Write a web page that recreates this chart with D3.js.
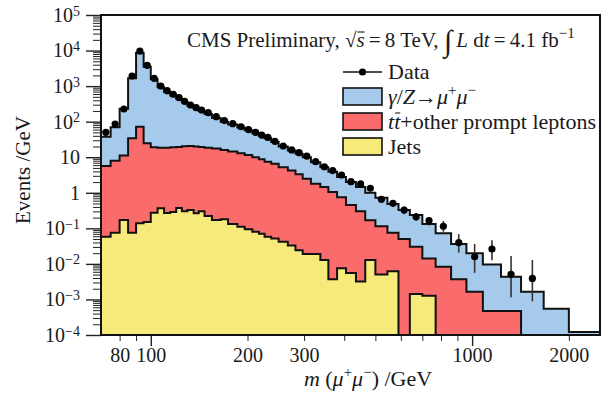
<!DOCTYPE html>
<html>
<head>
<meta charset="utf-8">
<script src="https://cdn.jsdelivr.net/npm/d3@7"></script>
<style>
  body { margin: 0; background: #fff; }
  svg text { font-family: "Liberation Serif", "DejaVu Serif", serif; fill: #1a1a1a; }
</style>
</head>
<body>
<div id="chart"></div>
<script>
// bin edges in GeV
const binEdges = [70, 75, 80, 85, 90, 95, 100, 105, 110, 115, 120, 125, 130, 136, 141, 147, 155, 165, 174,
  186, 196, 207, 217, 226, 237, 250, 267, 282, 297, 315, 337, 357, 380, 405, 435, 465, 500, 545, 590,
  640, 700, 770, 860, 960, 1080, 1230, 1420, 1670, 2000, 2500];

// stacked MC, events / GeV per bin
const jetsValues = [0.058, 0.075, 0.171, 0.075, 0.138, 0.151, 0.275, 0.366, 0.27, 0.288, 0.373, 0.30, 0.328,
  0.264, 0.30, 0.222, 0.171, 0.179, 0.132, 0.11, 0.095, 0.08, 0.07, 0.058, 0.052, 0.042, 0.033, 0.024, 0.019,
  0.019, 0.0129, 0.0037, 0.0075, 0.0055, 0.0032, 0.0129, 0.005, 0.0062, 0, 0.00142, 0.00127, 0, 0, 0, 0, 0,
  0, 0, 0];
const ttbarValues = [5.60, 7.93, 11.1, 33.9, 71.9, 24.5, 18.7, 18.1, 18.2, 18.7, 19.1, 20.2, 20.2, 19.7, 19.2,
  18.3, 17.3, 15.8, 14.37, 12.89, 11.4, 9.92, 8.63, 7.44, 6.45, 5.16, 4.17, 3.28, 2.48, 1.78, 1.44, 1.046,
  0.742, 0.445, 0.297, 0.157, 0.11, 0.069, 0.05, 0.0291, 0.0130, 0.0083, 0.00367, 0.00165, 0.00047,
  0.00047, 0, 0, 0];
const dyValues = [32.1, 61.5, 221, 1626, 8628, 3495, 1531, 906, 663, 526, 420, 330, 260, 215, 180, 146, 110,
  84, 68.5, 55, 45.5, 37, 31.3, 26.5, 20.5, 14.8, 11.3, 9.2, 7.5, 5.4, 3.75, 2.85, 2.05, 1.55, 1.15, 0.83,
  0.605, 0.405, 0.28, 0.2065, 0.1177, 0.0641, 0.0325, 0.0182, 0.0092, 0.0039, 0.00165, 0.00055, 0.000121];

// data, events / GeV (first 47 bins)
const dataValues = [50, 86, 227, 1925, 9700, 3850, 1656, 1007, 743, 586, 472, 373, 294, 248, 213, 179, 138,
  107, 88, 72, 60, 50, 42, 36, 28, 20.7, 16, 13.4, 10.8, 7.5, 5.4, 4.2, 3.16, 2.05, 1.77, 1.34, 0.656,
  0.506, 0.328, 0.212, 0.164, 0.114, 0.0395, 0.0159, 0.0262, 0.0051, 0.0039];
// error bar ends (null where the bar hides under the marker)
const dataErrLow = [null, null, null, null, null, null, null, null, null, null, null, null, null, null, null,
  null, null, null, null, null, null, null, null, null, null, null, null, null, null, null, null, null, null,
  null, null, null, 0.54, 0.40, 0.25, 0.16, 0.12, 0.08, 0.0207, 0.0056, 0.0127, 0.00115, 0.00089];
const dataErrHigh = [null, null, null, null, null, null, null, null, null, null, null, null, null, null, null,
  null, null, null, null, null, null, null, null, null, null, null, null, null, null, null, null, null, null,
  null, null, null, 0.78, 0.61, 0.41, 0.27, 0.21, 0.16, 0.069, 0.0364, 0.0464, 0.0166, 0.0128];

const xTickLabels = [80, 100, 200, 300, 1000, 2000];
const yTickValues = [1e-4, 1e-3, 1e-2, 1e-1, 1, 10, 1e2, 1e3, 1e4, 1e5];
const yTickExponents = ["\u22124", "\u22123", "\u22122", "\u22121", null, null, "2", "3", "4", "5"];

const colors = { dy: "#a6caec", ttbar: "#fa6c6c", jets: "#f6ea7a" };

const width = 610, height = 394;
const margin = { top: 15, right: 10, bottom: 59, left: 101 };
const innerW = width - margin.left - margin.right;
const innerH = height - margin.top - margin.bottom;

const svg = d3.select("#chart").append("svg")
  .attr("width", width)
  .attr("height", height);

const x = d3.scaleLog().domain([70, 2500]).range([margin.left, margin.left + innerW]);
const y = d3.scaleLog().domain([1e-4, 1e5]).range([margin.top + innerH, margin.top]).clamp(true);
const yPos = (v) => y(Math.max(v, 1e-5));

svg.append("clipPath").attr("id", "plot-clip")
  .append("rect")
  .attr("x", margin.left).attr("y", margin.top)
  .attr("width", innerW).attr("height", innerH);

const rows = binEdges.slice(0, -1).map((e, i) => ({
  x0: e,
  x1: binEdges[i + 1],
  jets: jetsValues[i],
  ttbar: ttbarValues[i],
  dy: dyValues[i]
}));

const keys = ["jets", "ttbar", "dy"];
const stacked = d3.stack().keys(keys)(rows);

function stepPoints(layer) {
  const pts = layer.map((d) => ({ x: d.data.x0, y0: d[0], y1: d[1] }));
  const last = layer[layer.length - 1];
  pts.push({ x: last.data.x1, y0: last[0], y1: last[1] });
  return pts;
}

const area = d3.area()
  .curve(d3.curveStepAfter)
  .x((d) => x(d.x))
  .y0((d) => yPos(d.y0))
  .y1((d) => yPos(d.y1));

const topLine = d3.line()
  .curve(d3.curveStepAfter)
  .x((d) => x(d.x))
  .y((d) => yPos(d.y1));

const plot = svg.append("g").attr("clip-path", "url(#plot-clip)");

plot.selectAll(".stack-fill")
  .data(stacked)
  .join("path")
  .attr("class", "stack-fill")
  .attr("fill", (d) => colors[d.key])
  .attr("d", (d) => area(stepPoints(d)));

plot.selectAll(".stack-line")
  .data(stacked)
  .join("path")
  .attr("class", "stack-line")
  .attr("fill", "none")
  .attr("stroke", "#111")
  .attr("stroke-width", 2)
  .attr("d", (d) => topLine(stepPoints(d)));

// data points
const dataPts = dataValues.map((v, i) => ({
  m: Math.sqrt(binEdges[i] * binEdges[i + 1]),
  v: v,
  lo: dataErrLow[i],
  hi: dataErrHigh[i]
}));

plot.selectAll(".err")
  .data(dataPts.filter((d) => d.lo !== null))
  .join("line")
  .attr("class", "err")
  .attr("x1", (d) => x(d.m))
  .attr("x2", (d) => x(d.m))
  .attr("y1", (d) => yPos(d.lo))
  .attr("y2", (d) => yPos(d.hi))
  .attr("stroke", "#333")
  .attr("stroke-width", 1.6);

plot.selectAll(".dot")
  .data(dataPts)
  .join("circle")
  .attr("class", "dot")
  .attr("cx", (d) => x(d.m))
  .attr("cy", (d) => yPos(d.v))
  .attr("r", 3.6)
  .attr("fill", "#000");

// axes
const yMinor = [];
for (let k = -4; k < 5; k++) {
  for (let j = 2; j <= 9; j++) yMinor.push(j * Math.pow(10, k));
}

svg.append("g")
  .attr("transform", `translate(${margin.left},0)`)
  .call(d3.axisLeft(y).tickValues(yMinor).tickSize(8).tickFormat(""))
  .call((g) => g.select(".domain").remove())
  .call((g) => g.selectAll("line").attr("stroke", "#222"));

const yAxis = svg.append("g")
  .attr("transform", `translate(${margin.left},0)`)
  .call(d3.axisLeft(y).tickValues(yTickValues).tickSize(15).tickFormat(""))
  .call((g) => g.select(".domain").remove())
  .call((g) => g.selectAll("line").attr("stroke", "#222").attr("stroke-width", 1.4));

yAxis.selectAll(".tick text")
  .attr("font-size", 20)
  .attr("fill", "#1a1a1a")
  .attr("x", -21)
  .each(function (d, i) {
    const t = d3.select(this);
    const exp = yTickExponents[i];
    if (exp === null) {
      t.text(d >= 10 ? "10" : "1");
    } else {
      t.text("10");
      t.append("tspan").attr("dy", "-0.45em").attr("font-size", 14).text(exp);
    }
  });

const xMinor = [80, 90, 200, 300, 400, 500, 600, 700, 800, 900, 2000];
svg.append("g")
  .attr("transform", `translate(0,${margin.top + innerH})`)
  .call(d3.axisBottom(x).tickValues(xMinor).tickSize(6).tickFormat(""))
  .call((g) => g.select(".domain").remove())
  .call((g) => g.selectAll("line").attr("stroke", "#222"));

svg.append("g")
  .attr("transform", `translate(0,${margin.top + innerH})`)
  .call(d3.axisBottom(x).tickValues([100, 1000]).tickSize(11).tickFormat(""))
  .call((g) => g.select(".domain").remove())
  .call((g) => g.selectAll("line").attr("stroke", "#222").attr("stroke-width", 1.4));

svg.append("g")
  .attr("transform", `translate(0,${margin.top + innerH})`)
  .call(d3.axisBottom(x).tickValues(xTickLabels).tickSize(0).tickPadding(13).tickFormat(d3.format("d")))
  .call((g) => g.select(".domain").remove())
  .call((g) => g.selectAll("text").attr("font-size", 20).attr("fill", "#1a1a1a"));

// frame
svg.append("rect")
  .attr("x", margin.left).attr("y", margin.top)
  .attr("width", innerW).attr("height", innerH)
  .attr("fill", "none")
  .attr("stroke", "#111")
  .attr("stroke-width", 2);

// bar over a single character of a text element
function overbar(textSel, charIndex, baseline, rise) {
  const r = textSel.node().getExtentOfChar(charIndex);
  svg.append("line")
    .attr("x1", r.x + 1).attr("x2", r.x + r.width)
    .attr("y1", baseline - rise).attr("y2", baseline - rise)
    .attr("stroke", "#1a1a1a").attr("stroke-width", 1.1);
}

// axis titles
const xTitle = svg.append("text")
  .attr("x", 368).attr("y", 386)
  .attr("text-anchor", "middle")
  .attr("font-size", 22);
xTitle.append("tspan").attr("font-style", "italic").text("m");
xTitle.append("tspan").text(" (");
xTitle.append("tspan").attr("font-style", "italic").text("\u03bc");
xTitle.append("tspan").attr("font-size", 15).attr("dy", -9).text("+");
xTitle.append("tspan").attr("font-style", "italic").attr("dy", 9).text("\u03bc");
xTitle.append("tspan").attr("font-size", 15).attr("dy", -9).text("\u2212");
xTitle.append("tspan").attr("dy", 9).text(") /GeV");

svg.append("text")
  .attr("transform", "translate(30,170) rotate(-90)")
  .attr("text-anchor", "middle")
  .attr("font-size", 21)
  .text("Events /GeV");

// header
const header = svg.append("text")
  .attr("x", 187).attr("y", 47)
  .attr("font-size", 21);
header.append("tspan").text("CMS Preliminary, \u221a");
header.append("tspan").attr("font-style", "italic").text("s");
header.append("tspan").text("\u2009=\u20098 TeV, ");
header.append("tspan").attr("font-size", 30).attr("dy", 4).text("\u222b");
header.append("tspan").attr("font-style", "italic").attr("dy", -4).text("\u2009L");
header.append("tspan").text(" d");
header.append("tspan").attr("font-style", "italic").text("t");
header.append("tspan").text("\u2009=\u20094.1 fb");
header.append("tspan").attr("font-size", 15).attr("dy", -9).text("\u22121");
overbar(header, 18, 47, 15);

// legend
const legendX = 343;
const legend = svg.append("g");
legend.append("line")
  .attr("x1", legendX).attr("x2", legendX + 39)
  .attr("y1", 72).attr("y2", 72)
  .attr("stroke", "#111").attr("stroke-width", 1.6);
legend.append("circle")
  .attr("cx", legendX + 19.5).attr("cy", 72).attr("r", 3.6).attr("fill", "#000");
legend.append("text").attr("x", legendX + 45).attr("y", 79).attr("font-size", 22).text("Data");

const legendRows = [
  { key: "dy", y: 88 },
  { key: "ttbar", y: 113 },
  { key: "jets", y: 138 }
];
legend.selectAll(".legend-box")
  .data(legendRows)
  .join("rect")
  .attr("class", "legend-box")
  .attr("x", legendX).attr("y", (d) => d.y)
  .attr("width", 39).attr("height", 17)
  .attr("fill", (d) => colors[d.key])
  .attr("stroke", "#111").attr("stroke-width", 1.6);

const l1 = legend.append("text").attr("x", legendX + 45).attr("y", 104).attr("font-size", 22);
l1.append("tspan").attr("font-style", "italic").text("\u03b3");
l1.append("tspan").text("/");
l1.append("tspan").attr("font-style", "italic").text("Z");
l1.append("tspan").text("\u2192");
l1.append("tspan").attr("font-style", "italic").text("\u03bc");
l1.append("tspan").attr("font-size", 15).attr("dy", -9).text("+");
l1.append("tspan").attr("font-style", "italic").attr("dy", 9).text("\u03bc");
l1.append("tspan").attr("font-size", 15).attr("dy", -9).text("\u2212");

const l2 = legend.append("text").attr("x", legendX + 45).attr("y", 129).attr("font-size", 22);
l2.append("tspan").attr("font-style", "italic").text("t");
l2.append("tspan").attr("font-style", "italic").text("t");
l2.append("tspan").text("+other prompt leptons");
overbar(l2, 1, 129, 16);

legend.append("text").attr("x", legendX + 45).attr("y", 154).attr("font-size", 22).text("Jets");
</script>
</body>
</html>
